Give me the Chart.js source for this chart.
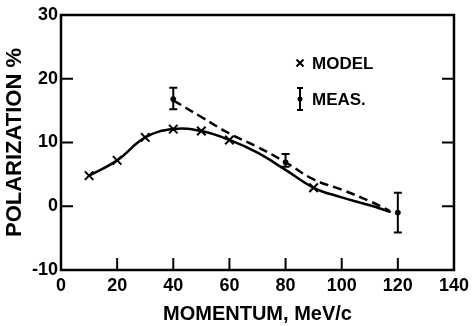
<!DOCTYPE html>
<html>
<head>
<meta charset="utf-8">
<script src="https://cdn.jsdelivr.net/npm/chart.js@4"></script>
<style>
  html, body { margin: 0; padding: 0; background: #fff; }
  #wrap { width: 474px; height: 326px; }
</style>
</head>
<body>
<div id="wrap"><canvas id="polChart" width="474" height="326"></canvas></div>
<script>
// Polarization vs momentum - model curve and measurements

const modelX = [10, 20, 30, 40, 50, 60, 90];
const modelY = [4.8, 7.2, 10.8, 12.1, 11.8, 10.4, 2.9];

// solid line through the model points
const curveX = [10, 20, 30, 40, 50, 60, 70, 80, 90, 100, 110, 117.5];
const curveY = [4.8, 7.2, 10.8, 12.1, 11.8, 10.4, 8.4, 5.7, 2.9, 1.4, 0.15, -0.9];

// dashed line through the measurements
const dashX = [40, 50, 60, 70, 80, 90, 100, 110, 117];
const dashY = [16.6, 14.0, 11.4, 9.3, 6.9, 4.2, 2.6, 0.8, -0.7];

const measX = [40, 80, 120];
const measY = [16.8, 6.9, -1.0];
const measLo = [15.2, 6.2, -4.1];
const measHi = [18.6, 8.2, 2.1];

const xTicks = [0, 20, 40, 60, 80, 100, 120, 140];
const yTicks = [-10, 0, 10, 20, 30];

const FONT = '"Liberation Sans", Arial, sans-serif';

function pts(xs, ys) {
    return xs.map((x, i) => ({ x: x, y: ys[i] }));
}

// frame, inward ticks, error bars and the legend
const decor = {
    id: 'decor',
    afterDatasetsDraw(chart) {
        const ctx = chart.ctx;
        const a = chart.chartArea;
        const xs = chart.scales.x, ys = chart.scales.y;
        ctx.save();
        ctx.strokeStyle = '#000';
        ctx.fillStyle = '#000';

        // frame
        ctx.lineWidth = 2.5;
        ctx.strokeRect(a.left, a.top, a.right - a.left, a.bottom - a.top);

        // inward ticks
        ctx.lineWidth = 2;
        const tl = 12;
        yTicks.forEach(v => {
            const py = ys.getPixelForValue(v);
            if (py <= a.top + 1 || py >= a.bottom - 1) return;
            ctx.beginPath();
            ctx.moveTo(a.left, py); ctx.lineTo(a.left + tl, py);
            ctx.moveTo(a.right, py); ctx.lineTo(a.right - tl, py);
            ctx.stroke();
        });
        xTicks.forEach(v => {
            const px = xs.getPixelForValue(v);
            if (px <= a.left + 1 || px >= a.right - 1) return;
            ctx.beginPath();
            ctx.moveTo(px, a.bottom); ctx.lineTo(px, a.bottom - tl);
            ctx.stroke();
        });

        // error bars
        ctx.lineWidth = 2;
        measX.forEach((v, i) => {
            const px = xs.getPixelForValue(v);
            const lo = ys.getPixelForValue(measLo[i]);
            const hi = ys.getPixelForValue(measHi[i]);
            ctx.beginPath();
            ctx.moveTo(px, lo); ctx.lineTo(px, hi);
            ctx.moveTo(px - 4, lo); ctx.lineTo(px + 4, lo);
            ctx.moveTo(px - 4, hi); ctx.lineTo(px + 4, hi);
            ctx.stroke();
        });

        // legend
        const lx = a.left + 239, ly1 = a.top + 48, ly2 = a.top + 84;
        ctx.lineWidth = 2;
        ctx.beginPath();
        ctx.moveTo(lx - 3.5, ly1 - 3.5); ctx.lineTo(lx + 3.5, ly1 + 3.5);
        ctx.moveTo(lx + 3.5, ly1 - 3.5); ctx.lineTo(lx - 3.5, ly1 + 3.5);
        ctx.stroke();
        ctx.beginPath();
        ctx.moveTo(lx, ly2 - 11); ctx.lineTo(lx, ly2 + 11);
        ctx.moveTo(lx - 3, ly2 - 11); ctx.lineTo(lx + 3, ly2 - 11);
        ctx.moveTo(lx - 3, ly2 + 11); ctx.lineTo(lx + 3, ly2 + 11);
        ctx.stroke();
        ctx.beginPath();
        ctx.arc(lx, ly2, 2.5, 0, Math.PI * 2);
        ctx.fill();
        ctx.font = 'bold 17px ' + FONT;
        ctx.textBaseline = 'middle';
        ctx.textAlign = 'left';
        ctx.fillText('MODEL', lx + 12, ly1 + 1);
        ctx.fillText('MEAS.', lx + 12, ly2 + 1);
        ctx.restore();
    }
};

new Chart(document.getElementById('polChart'), {
    type: 'scatter',
    data: {
        datasets: [
            {
                label: 'curve',
                data: pts(curveX, curveY),
                showLine: true,
                borderColor: '#000',
                borderWidth: 2.5,
                pointRadius: 0,
                tension: 0.4
            },
            {
                label: 'dashed',
                data: pts(dashX, dashY),
                showLine: true,
                borderColor: '#000',
                borderWidth: 2.5,
                borderDash: [9, 5],
                pointRadius: 0,
                tension: 0.4
            },
            {
                label: 'MODEL',
                data: pts(modelX, modelY),
                showLine: false,
                pointStyle: 'crossRot',
                pointRadius: 6,
                borderColor: '#000',
                borderWidth: 2
            },
            {
                label: 'MEAS.',
                data: pts(measX, measY),
                showLine: false,
                pointStyle: 'circle',
                pointRadius: 2.5,
                backgroundColor: '#000',
                borderColor: '#000',
                borderWidth: 1
            }
        ]
    },
    options: {
        responsive: false,
        animation: false,
        layout: { padding: { top: 15, right: 17, left: 0, bottom: 0 } },
        plugins: {
            legend: { display: false },
            tooltip: { enabled: false }
        },
        scales: {
            x: {
                type: 'linear',
                min: 0, max: 140,
                afterBuildTicks: s => { s.ticks = xTicks.map(v => ({ value: v })); },
                afterFit: s => { s.height = 56; },
                grid: { display: false, drawTicks: false },
                border: { display: false },
                ticks: { color: '#000', padding: 5, maxRotation: 0, font: { family: FONT, size: 18, weight: 'bold' } },
                title: {
                    display: true,
                    text: 'MOMENTUM, MeV/c',
                    color: '#000',
                    padding: { top: 0, bottom: 0 },
                    font: { family: FONT, size: 20, weight: 'bold' }
                }
            },
            y: {
                type: 'linear',
                min: -10, max: 30,
                afterBuildTicks: s => { s.ticks = yTicks.map(v => ({ value: v })); },
                afterFit: s => { s.width = 61; },
                grid: { display: false, drawTicks: false },
                border: { display: false },
                ticks: { color: '#000', padding: 3, font: { family: FONT, size: 18, weight: 'bold' } },
                title: {
                    display: true,
                    text: 'POLARIZATION %',
                    color: '#000',
                    padding: { top: 2, bottom: 0 },
                    font: { family: FONT, size: 22, weight: 'bold' }
                }
            }
        }
    },
    plugins: [decor]
});
</script>
</body>
</html>
